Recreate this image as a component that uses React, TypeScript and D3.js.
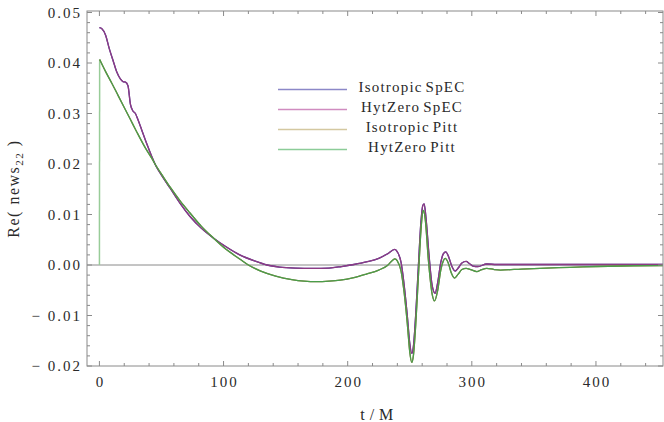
import React from "react";
import * as d3 from "d3";

// SpEC extraction (Isotropic and HytZero lie on top of each other)
const specT = [0, 2, 5, 8, 11, 14, 17, 19, 21, 23, 25, 27, 29, 31, 34, 38, 42, 46, 50, 57, 65, 73, 82, 92, 102, 113, 125, 135, 145, 158, 172, 185, 195, 205, 215, 225, 232, 238, 240, 243, 245.5, 248, 250, 251.6, 253, 255, 257, 259, 260.5, 261.6, 263, 265.5, 268, 270.4, 272.5, 275, 277, 279, 281.5, 284, 286.5, 289, 292, 295.4, 298, 301, 305, 312, 320, 350, 400, 454];
const hytSpecV = [0.047, 0.0468, 0.0455, 0.0428, 0.0405, 0.0382, 0.0368, 0.0363, 0.0362, 0.0355, 0.0318, 0.0305, 0.03, 0.0288, 0.0268, 0.0241, 0.0216, 0.0194, 0.0178, 0.0152, 0.0122, 0.0096, 0.0073, 0.0053, 0.0036, 0.002, 0.0008, 0.0, -0.0004, -0.0006, -0.00066, -0.0006, -0.0003, 0.0001, 0.0006, 0.0013, 0.0022, 0.0031, 0.0026, 0.0005, -0.004, -0.01, -0.0155, -0.0175, -0.016, -0.009, 0.0, 0.0085, 0.0118, 0.0121, 0.0095, 0.002, -0.004, -0.0056, -0.0035, 0.0005, 0.0022, 0.0026, 0.0015, -0.0003, -0.0012, -0.0006, 0.0004, 0.0007, 0.0003, -0.0002, -0.0003, 0.0002, 0.0001, 0.0001, 0.0001, 0.0001];
const isoSpecV = hytSpecV;

// Pitt extraction
const pittT = [0, 0.2, 5, 10, 15, 20, 25, 30, 37, 42, 46, 50, 57, 65, 73, 82, 92, 102, 113, 120, 130, 142, 155, 165, 175, 185, 194, 205, 215, 225, 232, 236, 238, 240, 243, 245.5, 248, 250, 251.6, 253, 255, 257, 259, 260.3, 261, 262.5, 265, 268, 270, 272.5, 275, 277, 278.5, 281, 283.5, 286, 289, 292, 295.4, 299, 304, 308, 312, 318, 323, 340, 360, 379, 400, 430, 454];
const hytPittV = [0, 0.0407, 0.0383, 0.036, 0.0336, 0.0312, 0.0288, 0.0264, 0.0232, 0.0212, 0.0195, 0.018, 0.0154, 0.0127, 0.0103, 0.0077, 0.0053, 0.0031, 0.0012, 0.0, -0.0012, -0.0022, -0.0029, -0.0032, -0.0033, -0.0032, -0.003, -0.0025, -0.0018, -0.001, -0.0001, 0.0009, 0.0012, 0.0008, -0.0012, -0.0055, -0.0115, -0.0172, -0.0193, -0.0178, -0.011, -0.002, 0.0068, 0.0103, 0.0108, 0.009, 0.001, -0.0057, -0.0071, -0.005, -0.001, 0.0008, 0.0013, 0.0004, -0.0016, -0.0026, -0.0018, -0.0009, -0.00066, -0.0009, -0.0013, -0.0009, -0.00066, -0.0009, -0.001, -0.0008, -0.0006, -0.00046, -0.0003, -0.00015, -0.0001];
const isoPittV = hytPittV;

const legendNames = ["Isotropic SpEC", "HytZero SpEC", "Isotropic Pitt", "HytZero Pitt"];
const lineColors = ["#3d3d99", "#8e3a84", "#997440", "#4a9d4a"];
const legendColors = ["#8c88c8", "#d08cc0", "#d4c8a0", "#8ccc98"];

const xTicks = [0, 100, 200, 300, 400];
const yTicks = [-0.02, -0.01, 0, 0.01, 0.02, 0.03, 0.04, 0.05];
const yTickLabels = ["\u2212 0.02", "\u2212 0.01", "0.00", "0.01", "0.02", "0.03", "0.04", "0.05"];

const W = 664, H = 422;
const left = 87, right = 663, top = 11, bottom = 366;

export default function App() {
  const x = d3.scaleLinear().domain([-10, 454]).range([left, right]);
  const y = d3.scaleLinear().domain([-0.02, 0.0503]).range([bottom, top]);

  const line = d3.line<[number, number]>()
    .x(d => x(d[0]))
    .y(d => y(d[1]))
    .curve(d3.curveMonotoneX);

  const series = [
    specT.map((t, i) => [t, isoSpecV[i]] as [number, number]),
    specT.map((t, i) => [t, hytSpecV[i]] as [number, number]),
    pittT.slice(1).map((t, i) => [t, isoPittV[i + 1]] as [number, number]),
    pittT.slice(1).map((t, i) => [t, hytPittV[i + 1]] as [number, number]),
  ];

  const xMinor = d3.range(0, 454, 20).filter(v => v % 100 !== 0);
  const yMinor = d3.range(-20, 51, 2).filter(v => v % 10 !== 0).map(v => v / 1000);
  const font = "'Liberation Serif', 'DejaVu Serif', serif";
  const frame = "#8a8a8a";
  const ink = "#2a2a2a";

  return (
    <svg width={W} height={H} style={{ position: "absolute", left: 0, top: 0, background: "#fff" }}>
      {/* zero axis */}
      <line x1={left} x2={right} y1={y(0)} y2={y(0)} stroke="#8a8a8a" strokeWidth={1} />

      {/* Pitt data jumps from 0 at t=0 */}
      <line x1={x(pittT[0])} x2={x(pittT[1])} y1={y(hytPittV[0])} y2={y(hytPittV[1])} stroke="#98cc98" strokeWidth={1.5} />

      {series.map((s, i) => (
        <path key={i} d={line(s) || ""} fill="none" stroke={lineColors[i]} strokeWidth={1.3} />
      ))}

      {/* frame */}
      <rect x={left} y={top} width={right - left} height={bottom - top} fill="none" stroke={frame} strokeWidth={1} />

      {xTicks.map(v => (
        <g key={"xt" + v}>
          <line x1={x(v)} x2={x(v)} y1={bottom} y2={bottom - 5} stroke={frame} />
          <line x1={x(v)} x2={x(v)} y1={top} y2={top + 5} stroke={frame} />
          <text x={x(v) + 1} y={387} textAnchor="middle" fontFamily={font} fontSize={15} letterSpacing={2} fill={ink}>{v}</text>
        </g>
      ))}
      {xMinor.map(v => (
        <g key={"xm" + v}>
          <line x1={x(v)} x2={x(v)} y1={bottom} y2={bottom - 3} stroke={frame} />
          <line x1={x(v)} x2={x(v)} y1={top} y2={top + 3} stroke={frame} />
        </g>
      ))}
      {yTicks.map((v, i) => (
        <g key={"yt" + i}>
          <line x1={left} x2={left + 5} y1={y(v)} y2={y(v)} stroke={frame} />
          <line x1={right} x2={right - 5} y1={y(v)} y2={y(v)} stroke={frame} />
          <text x={82} y={y(v) + 5} textAnchor="end" fontFamily={font} fontSize={15} letterSpacing={2} fill={ink}>{yTickLabels[i]}</text>
        </g>
      ))}
      {yMinor.map((v, i) => (
        <g key={"ym" + i}>
          <line x1={left} x2={left + 3} y1={y(v)} y2={y(v)} stroke={frame} />
          <line x1={right} x2={right - 3} y1={y(v)} y2={y(v)} stroke={frame} />
        </g>
      ))}

      {/* axis labels */}
      <text x={(left + right) / 2 + 2} y={420} textAnchor="middle" fontFamily={font} fontSize={16} letterSpacing={0.5} fill={ink}>t / M</text>
      <text transform={`translate(19, ${(top + bottom) / 2}) rotate(-90)`} textAnchor="middle" fontFamily={font} fontSize={16} letterSpacing={1.5} fill={ink}>
        Re( news<tspan fontSize={11} dy={4}>22</tspan><tspan dy={-4}> )</tspan>
      </text>

      {/* legend */}
      {legendNames.map((n, i) => (
        <g key={n}>
          <line x1={278} x2={347} y1={89.5 + i * 20} y2={89.5 + i * 20} stroke={legendColors[i]} strokeWidth={1.5} />
          <text x={412} y={91.5 + i * 20} textAnchor="middle" fontFamily={font} fontSize={15} letterSpacing={1.2} wordSpacing={-2} fill={ink}>{n}</text>
        </g>
      ))}
    </svg>
  );
}
